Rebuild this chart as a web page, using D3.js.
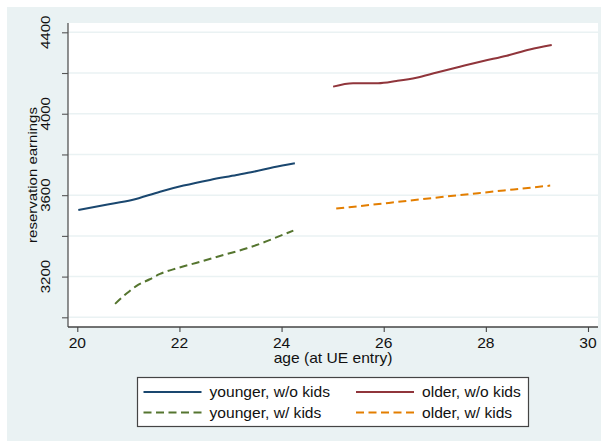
<!DOCTYPE html>
<html>
<head>
<meta charset="utf-8">
<script src="https://cdn.jsdelivr.net/npm/d3@7"></script>
<style>
  html, body { margin: 0; padding: 0; background: #ffffff; }
  svg { display: block; font-family: "Liberation Sans", Arial, Helvetica, sans-serif; }
</style>
</head>
<body>
<svg id="chart" width="601" height="441"></svg>
<script>
// ---- data ----
const youngNoKidsAge = [20.02, 20.54, 21.07, 21.62, 22.08, 22.60, 23.12, 23.45, 23.84, 24.26];
const youngNoKidsVal = [3527, 3552, 3576, 3617, 3647, 3675, 3699, 3715, 3737, 3757];

const youngKidsAge = [20.74, 20.97, 21.19, 21.42, 21.62, 21.95, 22.34, 22.86, 23.32, 23.64, 23.97, 24.23];
const youngKidsVal = [3066, 3118, 3159, 3187, 3213, 3241, 3268, 3306, 3339, 3367, 3400, 3426];

const oldNoKidsAge = [25.01, 25.40, 25.89, 26.25, 26.64, 27.04, 27.49, 27.95, 28.41, 28.86, 29.29];
const oldNoKidsVal = [4133, 4150, 4150, 4161, 4177, 4203, 4231, 4259, 4285, 4316, 4338];

const oldKidsAge = [25.07, 26.10, 27.17, 28.20, 29.26];
const oldKidsVal = [3534, 3562, 3592, 3619, 3647];

const xTicks = [20, 22, 24, 26, 28, 30];
const yTicks = [3000, 3200, 3400, 3600, 3800, 4000, 4200, 4400];
const yTickLabels = ["", "3200", "", "3600", "", "4000", "", "4400"];

const seriesNames = ["younger, w/o kids", "older, w/o kids", "younger, w/ kids", "older, w/ kids"];
const seriesColors = ["#1a476f", "#90353b", "#55752f", "#e37e00"];
const seriesDash = [null, null, "8,4.5", "8,4.5"];

const xTitle = "age (at UE entry)";
const yTitle = "reservation earnings";

// ---- layout ----
const svg = d3.select("#chart");
const W = 601, H = 441;
const plot = { left: 68, right: 598, top: 23, bottom: 327 };
const HS = "scale(1.04,1)";          // horizontal text stretch
const RS = "rotate(-90) scale(1,0.8)"; // rotated text, thinner

// outer graph region
svg.append("rect").attr("x", 7).attr("y", 7).attr("width", W - 7).attr("height", H - 7)
  .attr("fill", "#eaf2f3");
// plot region
svg.append("rect").attr("x", plot.left).attr("y", plot.top)
  .attr("width", plot.right - plot.left).attr("height", plot.bottom - plot.top)
  .attr("fill", "#ffffff");

const x = d3.scaleLinear().domain([19.818, 30.196]).range([plot.left, plot.right]);
const y = d3.scaleLinear().domain([2952.4, 4445.7]).range([plot.bottom, plot.top]);

// gridlines
svg.append("g").selectAll("line").data(yTicks).join("line")
  .attr("x1", plot.left).attr("x2", plot.right)
  .attr("y1", d => y(d)).attr("y2", d => y(d))
  .attr("stroke", "#eaf2f3").attr("stroke-width", 1.5);

// y axis
const yAxis = d3.axisLeft(y).tickValues(yTicks).tickSize(6).tickFormat("");
const gy = svg.append("g").attr("transform", `translate(${plot.left},0)`).call(yAxis);
gy.select(".domain").attr("d", `M0,${plot.top}V${plot.bottom}`).attr("stroke", "#555").attr("stroke-width", 1.3);
gy.selectAll(".tick line").attr("stroke", "#555").attr("stroke-width", 1.1);
svg.append("g").selectAll("text").data(yTicks.map((v, i) => [v, yTickLabels[i]]).filter(d => d[1] !== "")).join("text")
  .attr("transform", d => `translate(50,${y(d[0])}) ${RS}`)
  .attr("text-anchor", "middle")
  .attr("font-size", 15).attr("fill", "#111")
  .text(d => d[1]);

// x axis
const xAxis = d3.axisBottom(x).tickValues(xTicks).tickSize(5).tickFormat("");
const gx = svg.append("g").attr("transform", `translate(0,${plot.bottom})`).call(xAxis);
gx.select(".domain").attr("d", `M${plot.left},0H${plot.right}`).attr("stroke", "#444").attr("stroke-width", 1.3);
gx.selectAll(".tick line").attr("stroke", "#444").attr("stroke-width", 1.1);
svg.append("g").selectAll("text").data(xTicks).join("text")
  .attr("transform", d => `translate(${x(d)},347.5) ${HS}`)
  .attr("text-anchor", "middle").attr("font-size", 15).attr("fill", "#111")
  .text(d => d);

// axis titles
svg.append("text").attr("transform", `translate(${(plot.left + plot.right) / 2},363) ${HS}`)
  .attr("text-anchor", "middle").attr("font-size", 15).attr("fill", "#111").text(xTitle);
svg.append("text").attr("transform", `translate(36.5,${(plot.top + plot.bottom) / 2}) ${RS}`)
  .attr("text-anchor", "middle").attr("font-size", 15).attr("fill", "#111").text(yTitle);

// lines
const line = d3.line().x(d => x(d[0])).y(d => y(d[1])).curve(d3.curveMonotoneX);
const series = [
  { ages: youngNoKidsAge, vals: youngNoKidsVal, idx: 0 },
  { ages: oldNoKidsAge, vals: oldNoKidsVal, idx: 1 },
  { ages: youngKidsAge, vals: youngKidsVal, idx: 2 },
  { ages: oldKidsAge, vals: oldKidsVal, idx: 3 }
];
svg.append("g").selectAll("path").data(series).join("path")
  .attr("d", s => line(s.ages.map((a, i) => [a, s.vals[i]])))
  .attr("fill", "none")
  .attr("stroke", s => seriesColors[s.idx])
  .attr("stroke-width", 2)
  .attr("stroke-dasharray", s => seriesDash[s.idx]);

// legend
const lg = svg.append("g");
lg.append("rect").attr("x", 137.5).attr("y", 377.5).attr("width", 391).attr("height", 49)
  .attr("fill", "#fff").attr("stroke", "#444").attr("stroke-width", 1.2);
const colX = [143.5, 356];
const rowY = [392, 412.5];
seriesNames.forEach((name, i) => {
  const cx = colX[i % 2], cy = rowY[Math.floor(i / 2)];
  lg.append("line").attr("x1", cx).attr("x2", cx + 58).attr("y1", cy).attr("y2", cy)
    .attr("stroke", seriesColors[i]).attr("stroke-width", 2)
    .attr("stroke-dasharray", seriesDash[i]);
  lg.append("text").attr("transform", `translate(${cx + 66},${cy + 5.4}) ${HS}`)
    .attr("font-size", 15).attr("fill", "#111").text(name);
});
</script>
</body>
</html>
